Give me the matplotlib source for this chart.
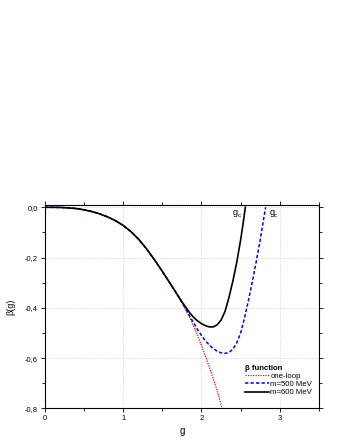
import matplotlib
matplotlib.use("Agg")
import matplotlib.pyplot as plt
from matplotlib.ticker import MultipleLocator, FuncFormatter

plt.rcParams['font.family'] = ['Liberation Sans', 'DejaVu Sans']

# values; the three curves share the low-g part
g_low = [0.0, 0.1, 0.2, 0.3, 0.4, 0.5, 0.6, 0.7, 0.8, 0.9, 1.0, 1.1, 1.2, 1.3,
         1.4, 1.5, 1.6, 1.7]
beta_low = [0.0, -0.0001, -0.0006, -0.0022, -0.005, -0.010, -0.017, -0.026,
            -0.038, -0.053, -0.072, -0.097, -0.128, -0.166, -0.209, -0.255,
            -0.303, -0.352]

g_one_loop = g_low + [1.75, 1.8, 1.85, 1.9, 1.95, 2.0, 2.05, 2.1, 2.15, 2.2,
                      2.25, 2.265]
beta_one_loop = beta_low + [-0.379, -0.409, -0.44, -0.474, -0.51, -0.55,
                            -0.592, -0.636, -0.682, -0.73, -0.785, -0.80]

g_m500 = g_low + [1.75, 1.8, 1.85, 1.9, 1.95, 2.0, 2.05, 2.1, 2.15, 2.2, 2.25,
                  2.29, 2.35, 2.4, 2.45, 2.5, 2.55, 2.6, 2.65, 2.7, 2.75, 2.8, 2.82]
beta_m500 = beta_low + [-0.378, -0.405, -0.433, -0.46, -0.487, -0.51, -0.531,
                        -0.548, -0.562, -0.572, -0.579, -0.582, -0.578, -0.565,
                        -0.54, -0.50, -0.44, -0.37, -0.295, -0.215, -0.13,
                        -0.035, 0.0]

g_m600 = g_low + [1.75, 1.8, 1.85, 1.9, 1.95, 2.0, 2.05, 2.1, 2.15, 2.2, 2.25,
                  2.3, 2.35, 2.4, 2.45, 2.5, 2.53, 2.56]
beta_m600 = beta_low + [-0.376, -0.398, -0.42, -0.438, -0.452, -0.463, -0.471,
                        -0.476, -0.476, -0.468, -0.449, -0.415, -0.36, -0.295,
                        -0.22, -0.13, -0.068, 0.0]

x_ticks = [0, 1, 2, 3]
y_ticks = [-0.8, -0.6, -0.4, -0.2, 0.0]

fig = plt.figure(figsize=(3.4, 4.4), dpi=100)
ax = fig.add_axes([0.132, 0.072, 0.806, 0.462])

ax.plot(g_one_loop, beta_one_loop, color='red', linestyle=(0, (1, 1)), lw=0.9,
        label='one-loop', zorder=3)
ax.plot(g_m500, beta_m500, color='blue', linestyle=(0, (2.2, 1.4)), lw=1.1,
        label='m=500 MeV', zorder=4)
ax.plot(g_m600, beta_m600, color='black', lw=1.2, label='m=600 MeV', zorder=5)

ax.set_xlim(0, 3.5)
ax.set_ylim(-0.8, 0.009)
ax.set_xticks(x_ticks)
ax.set_yticks(y_ticks)
ax.xaxis.set_minor_locator(MultipleLocator(0.5))
ax.yaxis.set_minor_locator(MultipleLocator(0.1))
ax.yaxis.set_major_formatter(
    FuncFormatter(lambda v, p: f"{v:.1f}".replace('.', ',').replace('-0,0', '0,0')))
ax.tick_params(which='both', labelsize=5.5, width=0.6, pad=2)
ax.tick_params(which='major', length=3)
ax.tick_params(which='minor', length=2)
ax.tick_params(which='both', top=True, right=True)

ax.grid(True, which='major', color='#cccccc', linestyle=(0, (1, 1.5)), lw=0.6)
for s in ax.spines.values():
    s.set_linewidth(0.8)

ax.set_xlabel('g', fontsize=7, labelpad=3)
ax.set_ylabel('β(g)', fontsize=6.5, labelpad=7)

ax.text(2.43, -0.003, 'g', fontsize=6.5, ha='center', va='top')
ax.text(2.478, -0.022, 'c', fontsize=4.5, ha='center', va='top')
ax.text(2.90, -0.003, 'g', fontsize=6.5, ha='center', va='top')
ax.text(2.948, -0.022, 'c', fontsize=4.5, ha='center', va='top')

leg = ax.legend(loc='lower right', bbox_to_anchor=(1.0, 0.025), frameon=False,
                fontsize=5.6, title='β function', handlelength=3.0,
                handletextpad=0.2, labelspacing=0.1)
leg.get_title().set_fontsize(5.6)
leg.get_title().set_fontweight('bold')
leg._legend_box.align = 'left'

fig.savefig('out.png', dpi=100)
